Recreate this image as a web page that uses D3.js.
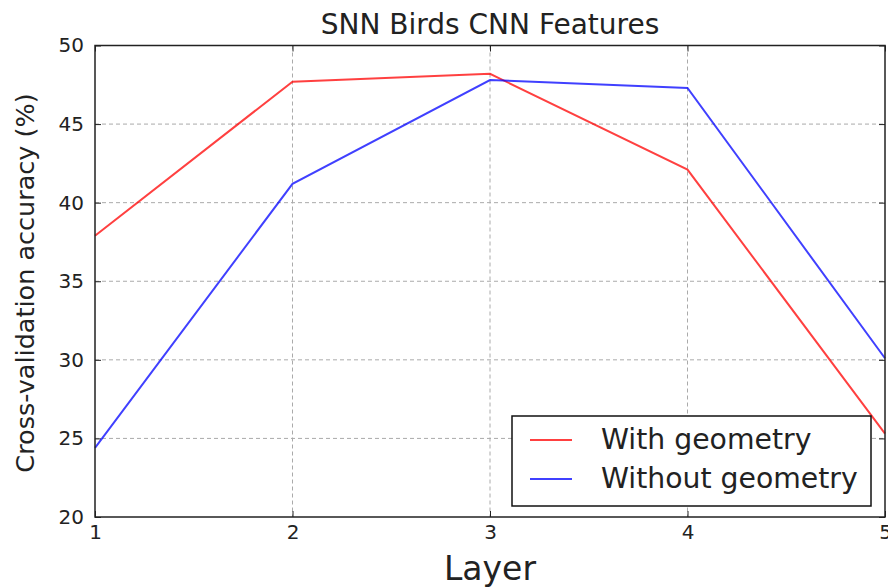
<!DOCTYPE html>
<html>
<head>
<meta charset="utf-8">
<script src="https://cdn.jsdelivr.net/npm/d3@7"></script>
<style>
  body { margin: 0; background: #fff; }
  text { font-family: "DejaVu Sans", sans-serif; fill: #222; }
</style>
</head>
<body>
<div class="chart"></div>
<script>
// data
var layers = [1, 2, 3, 4, 5];
var withGeometry = [37.9, 47.7, 48.2, 42.1, 25.3];
var withoutGeometry = [24.4, 41.2, 47.8, 47.3, 30.1];
var yTicks = [20, 25, 30, 35, 40, 45, 50];
var seriesNames = ["With geometry", "Without geometry"];
var seriesColors = ["#ff0000", "#0000ff"];

var svgWidth = 888, svgHeight = 588;
var margin = { top: 45.5, right: 3, bottom: 71, left: 95 };
var chartWidth = svgWidth - margin.left - margin.right;
var chartHeight = svgHeight - margin.top - margin.bottom;

var svg = d3.select(".chart")
  .append("svg")
  .attr("width", svgWidth)
  .attr("height", svgHeight);

var chartGroup = svg.append("g")
  .attr("transform", `translate(${margin.left}, ${margin.top})`);

var xScale = d3.scaleLinear().domain([1, 5]).range([0, chartWidth]);
var yScale = d3.scaleLinear().domain([20, 50]).range([chartHeight, 0]);

// grid
chartGroup.append("g").selectAll("line.gx")
  .data(layers.slice(1, -1))
  .enter().append("line")
  .attr("x1", d => xScale(d)).attr("x2", d => xScale(d))
  .attr("y1", 0).attr("y2", chartHeight)
  .attr("stroke", "#aaa").attr("stroke-dasharray", "4,3");
chartGroup.append("g").selectAll("line.gy")
  .data(yTicks.slice(1, -1))
  .enter().append("line")
  .attr("y1", d => yScale(d)).attr("y2", d => yScale(d))
  .attr("x1", 0).attr("x2", chartWidth)
  .attr("stroke", "#aaa").attr("stroke-dasharray", "4,3");

// axes (ticks inward, all four sides)
var tickStyle = function(g) {
  g.select(".domain").remove();
  g.selectAll(".tick line").attr("stroke", "#222");
  g.selectAll(".tick text").style("font-size", "20px").attr("fill", "#222");
};

chartGroup.append("g")
  .attr("transform", `translate(0, ${chartHeight})`)
  .call(d3.axisBottom(xScale).tickValues(layers).tickFormat(d3.format("d"))
    .tickSizeInner(-6).tickPadding(8))
  .call(tickStyle);
chartGroup.append("g")
  .call(d3.axisLeft(yScale).tickValues(yTicks).tickSizeInner(-6).tickPadding(11))
  .call(tickStyle);
chartGroup.append("g")
  .call(d3.axisTop(xScale).tickValues(layers).tickSizeInner(-6).tickFormat(""))
  .call(tickStyle);
chartGroup.append("g")
  .attr("transform", `translate(${chartWidth}, 0)`)
  .call(d3.axisRight(yScale).tickValues(yTicks).tickSizeInner(-6).tickFormat(""))
  .call(tickStyle);

// lines
var line = d3.line()
  .x((d, i) => xScale(layers[i]))
  .y(d => yScale(d));

[withGeometry, withoutGeometry].forEach(function(vals, k) {
  chartGroup.append("path")
    .datum(vals)
    .attr("d", line)
    .attr("fill", "none")
    .attr("stroke", seriesColors[k])
    .attr("stroke-opacity", 0.75)
    .attr("stroke-width", 2);
});

// frame
chartGroup.append("rect")
  .attr("width", chartWidth).attr("height", chartHeight)
  .attr("fill", "none").attr("stroke", "#222").attr("stroke-width", 1.5);

// legend
var legend = chartGroup.append("g")
  .attr("transform", `translate(${512 - margin.left}, ${416 - margin.top})`);
legend.append("rect")
  .attr("width", 359).attr("height", 90)
  .attr("fill", "#fff").attr("stroke", "#111").attr("stroke-width", 1.5);
seriesNames.forEach(function(name, k) {
  var ly = 24 + k * 39;
  legend.append("line")
    .attr("x1", 18).attr("x2", 60).attr("y1", ly).attr("y2", ly)
    .attr("stroke", seriesColors[k]).attr("stroke-opacity", 0.75).attr("stroke-width", 2);
  legend.append("text")
    .attr("x", 89).attr("y", ly)
    .attr("dy", "0.33em")
    .style("font-size", "28.3px")
    .text(name);
});

// titles
svg.append("text")
  .attr("x", margin.left + chartWidth / 2).attr("y", 34)
  .attr("text-anchor", "middle")
  .style("font-size", "28px")
  .text("SNN Birds CNN Features");

svg.append("text")
  .attr("x", margin.left + chartWidth / 2).attr("y", 580)
  .attr("text-anchor", "middle")
  .style("font-size", "33px")
  .text("Layer");

svg.append("text")
  .attr("transform", "rotate(-90)")
  .attr("x", -283).attr("y", 34)
  .attr("text-anchor", "middle")
  .style("font-size", "25.5px")
  .text("Cross-validation accuracy (%)");
</script>
</body>
</html>
